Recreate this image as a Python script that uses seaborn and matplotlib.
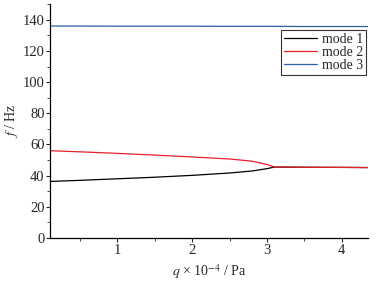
import numpy as np
import matplotlib
matplotlib.use("Agg")
import matplotlib.pyplot as plt
import seaborn as sns
import pandas as pd
from matplotlib.ticker import MultipleLocator

# q x 10^-4 / Pa
q_values = [0.1, 0.5, 1.0, 1.5, 2.0, 2.5, 2.8, 3.0, 3.1, 3.5, 4.0, 4.35]
mode1 = [36.3, 37.0, 38.0, 39.0, 40.2, 41.7, 43.0, 44.5, 45.5, 45.4, 45.3, 45.2]
mode2 = [56.0, 55.3, 54.3, 53.2, 52.0, 50.7, 49.3, 47.2, 45.6, 45.4, 45.3, 45.2]
mode3 = [136.0, 136.0, 135.9, 135.9, 135.9, 135.8, 135.8, 135.8, 135.8, 135.7, 135.7, 135.7]
labels = ["mode 1", "mode 2", "mode 3"]
colors = ["black", "#e8202a", "#2f5fa5"]

df = pd.DataFrame({"q": q_values * 3,
                   "f": mode1 + mode2 + mode3,
                   "mode": sum([[l] * len(q_values) for l in labels], [])})

sns.set_style("ticks")
plt.rcParams["font.family"] = ["Liberation Serif", "DejaVu Serif"]
plt.rcParams["mathtext.fontset"] = "stix"

fig, ax = plt.subplots(figsize=(3.8, 2.81), dpi=100)
sns.lineplot(data=df, x="q", y="f", hue="mode", palette=colors, linewidth=0.9, ax=ax)

ax.set_xlim(0.1, 4.35)
ax.set_ylim(0, 150)
ax.xaxis.set_major_locator(MultipleLocator(1))
ax.xaxis.set_minor_locator(MultipleLocator(0.5))
ax.yaxis.set_major_locator(MultipleLocator(20))
ax.yaxis.set_minor_locator(MultipleLocator(10))
ax.tick_params(which="major", length=3, width=0.8, labelsize=10.5, pad=1, direction="out")
ax.tick_params(which="minor", length=2, width=0.6)
sns.despine(ax=ax)
for s in ["left", "bottom"]:
    ax.spines[s].set_linewidth(0.9)
    ax.spines[s].set_color("black")

ax.set_xlabel(r"$q$ × 10$^{-4}$ / Pa", fontsize=10)
ax.set_ylabel(r"$f$ / Hz", fontsize=10, labelpad=2)

leg = ax.legend(loc="upper right", bbox_to_anchor=(1.0, 0.895), fontsize=10,
                frameon=True, fancybox=False, handlelength=2.4, handletextpad=0.4,
                borderpad=0.2, labelspacing=0.0, borderaxespad=0.1)
leg.get_frame().set_edgecolor("black")
leg.get_frame().set_linewidth(0.8)

fig.subplots_adjust(left=0.132, right=0.968, top=0.985, bottom=0.153)
fig.savefig("out.png", dpi=100)
